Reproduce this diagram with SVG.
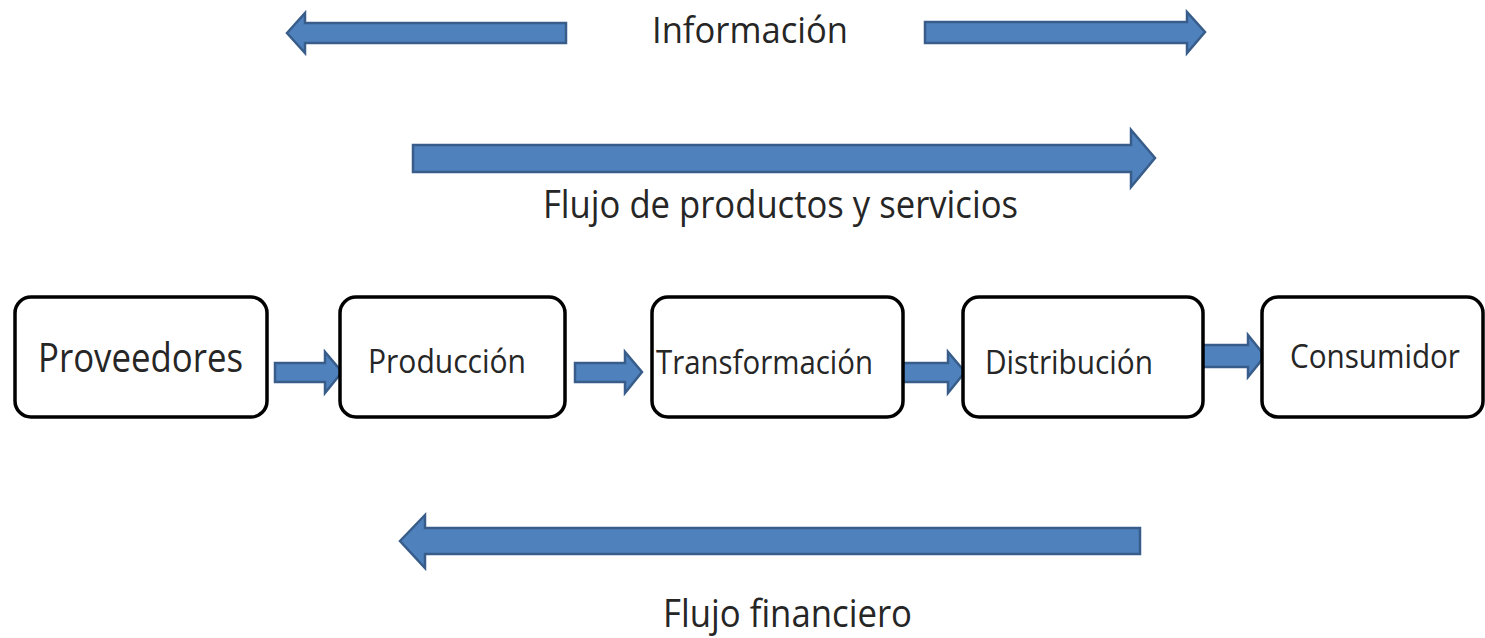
<svg xmlns="http://www.w3.org/2000/svg" width="1485" height="638" viewBox="0 0 1485 638">
<style>
.arrow{fill:#4f81bd;stroke:#385d8a;stroke-width:2.5;stroke-linejoin:miter}
.box{fill:#ffffff;stroke:#000000;stroke-width:3.5}
.lbl{font-family:"Open Sans","Liberation Sans",sans-serif;fill:#262626}
</style>
<rect width="1485" height="638" fill="#ffffff"/>
<g id="flows">
<polygon class="arrow" points="287,33 305,13 305,23 566,23 566,43 305,43 305,53"/>
<polygon class="arrow" points="925,22 1187,22 1187,12 1205,32 1187,53 1187,43 925,43"/>
<polygon class="arrow" points="413,145 1131,145 1131,130 1155,158 1131,187 1131,172 413,172"/>
<polygon class="arrow" points="400,541 425,515 425,528 1140,528 1140,554 425,554 425,568"/>
</g>
<g id="flow-labels">
<text class="lbl" x="652" y="43" font-size="37" textLength="196" lengthAdjust="spacingAndGlyphs">Información</text>
<text class="lbl" x="543" y="218" font-size="38" textLength="475" lengthAdjust="spacingAndGlyphs">Flujo de productos y servicios</text>
<text class="lbl" x="663" y="627" font-size="38" textLength="249" lengthAdjust="spacingAndGlyphs">Flujo financiero</text>
</g>
<g id="connectors">
<polygon class="arrow" points="275,363 325,363 325,352 342,372 325,393 325,382 275,382"/>
<polygon class="arrow" points="575,363 625,363 625,352 642,372 625,393 625,382 575,382"/>
<polygon class="arrow" points="900,363 948,363 948,352 965,372 948,393 948,382 900,382"/>
<polygon class="arrow" points="1200,345 1248,345 1248,335 1265,356 1248,377 1248,367 1200,367"/>
</g>
<g id="proveedores">
<rect class="box" x="15" y="297" width="252" height="120" rx="16"/>
<text class="lbl" x="38" y="372" font-size="40" textLength="205" lengthAdjust="spacingAndGlyphs">Proveedores</text>
</g>
<g id="produccion">
<rect class="box" x="340" y="297" width="225" height="120" rx="16"/>
<text class="lbl" x="368" y="373" font-size="33" textLength="158" lengthAdjust="spacingAndGlyphs">Producción</text>
</g>
<g id="transformacion">
<rect class="box" x="652" y="297" width="251" height="120" rx="16"/>
<text class="lbl" x="656" y="374" font-size="33" textLength="217" lengthAdjust="spacingAndGlyphs">Transformación</text>
</g>
<g id="distribucion">
<rect class="box" x="963" y="297" width="240" height="120" rx="16"/>
<text class="lbl" x="985" y="374" font-size="33" textLength="168" lengthAdjust="spacingAndGlyphs">Distribución</text>
</g>
<g id="consumidor">
<rect class="box" x="1262" y="297" width="221" height="120" rx="16"/>
<text class="lbl" x="1290" y="368" font-size="33" textLength="170" lengthAdjust="spacingAndGlyphs">Consumidor</text>
</g>
</svg>
